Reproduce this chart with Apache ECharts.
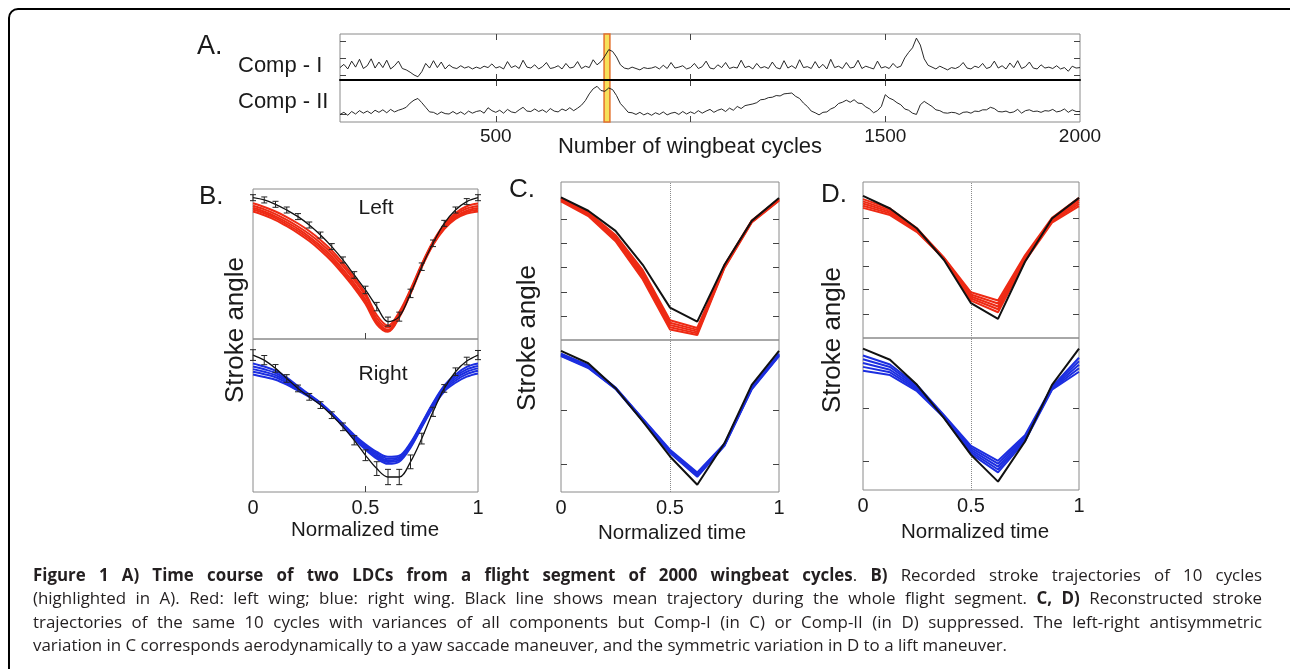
<!DOCTYPE html>
<html>
<head>
<meta charset="utf-8">
<script src="https://cdn.jsdelivr.net/npm/echarts@6/dist/echarts.min.js"></script>
<style>
html,body{margin:0;padding:0;background:#fff;}
#chart{position:absolute;left:0;top:0;width:1290px;height:669px;}
#caption{position:absolute;left:33px;top:563px;width:1229px;font-family:'Open Sans',sans-serif;font-size:16.9px;line-height:23.3px;color:#231f20;}
#caption div{white-space:nowrap;text-align:justify;text-align-last:justify;}
#caption div.last{text-align-last:left;}
#caption b{font-weight:700;}
</style>
</head>
<body>
<div id="chart"></div>
<div id="caption">
<div><b>Figure 1 A) Time course of two LDCs from a flight segment of 2000 wingbeat cycles</b>. <b>B)</b> Recorded stroke trajectories of 10 cycles</div>
<div>(highlighted in A). Red: left wing; blue: right wing. Black line shows mean trajectory during the whole flight segment. <b>C, D)</b> Reconstructed stroke</div>
<div>trajectories of the same 10 cycles with variances of all components but Comp-I (in C) or Comp-II (in D) suppressed. The left-right antisymmetric</div>
<div class="last">variation in C corresponds aerodynamically to a yaw saccade maneuver, and the symmetric variation in D to a lift maneuver.</div>
</div>
<script>
// ---------------- Panel A data ----------------
const cycleNumbers = [
100,110,120,130,140,150,160,170,180,190,
200,210,220,230,240,250,260,270,280,290,
300,310,320,330,340,350,360,370,380,390,
400,410,420,430,440,450,460,470,480,490,
500,510,520,530,540,550,560,570,580,590,
600,610,620,630,640,650,660,670,680,690,
700,710,720,730,740,750,760,770,780,790,
800,810,820,830,840,850,860,870,880,890,
900,910,920,930,940,950,960,970,980,990,
1000,1010,1020,1030,1040,1050,1060,1070,1080,1090,
1100,1110,1120,1130,1140,1150,1160,1170,1180,1190,
1200,1210,1220,1230,1240,1250,1260,1270,1280,1290,
1300,1310,1320,1330,1340,1350,1360,1370,1380,1390,
1400,1410,1420,1430,1440,1450,1460,1470,1480,1490,
1500,1510,1520,1530,1540,1550,1560,1570,1580,1590,
1600,1610,1620,1630,1640,1650,1660,1670,1680,1690,
1700,1710,1720,1730,1740,1750,1760,1770,1780,1790,
1800,1810,1820,1830,1840,1850,1860,1870,1880,1890,
1900,1910,1920,1930,1940,1950,1960,1970,1980,1990,
2000];
const compI = [
27,34,24,41,28,45,25,31,46,26,
39,27,43,24,31,41,25,22,17,11,
7,18,36,26,42,27,39,24,33,27,
25,31,26,29,24,28,25,30,27,35,
26,29,24,40,27,31,25,43,28,26,
33,24,29,38,25,27,31,24,36,26,
28,40,25,30,27,44,33,40,52,66,
62,50,33,26,24,28,25,22,27,25,
26,29,24,32,25,38,26,28,31,24,
27,36,25,29,41,26,24,33,27,38,
25,28,26,43,27,30,24,36,26,29,
25,39,27,24,42,26,31,25,44,27,
29,25,40,26,34,24,45,27,30,25,
38,26,28,43,25,30,27,24,41,26,
29,25,36,27,30,48,60,70,91,76,
46,32,28,24,30,26,22,27,25,29,
38,26,24,30,27,36,25,28,41,26,
31,24,37,27,42,25,29,39,26,24,
33,26,28,25,31,24,27,19,30,26,
27];
const compII = [
18,23,16,25,19,27,21,26,20,28,
23,29,22,30,24,28,31,35,45,52,
56,46,35,24,23,18,24,20,19,25,
19,24,18,26,21,25,27,21,34,27,
23,28,21,30,24,22,29,35,26,25,
31,25,29,23,32,26,24,31,27,34,
27,33,40,51,67,79,85,75,73,81,
77,63,44,34,23,22,18,23,17,21,
16,22,18,24,17,21,23,18,25,19,
24,20,27,21,26,30,23,28,31,25,
33,28,37,32,39,41,43,46,53,54,
58,59,63,62,67,68,69,61,56,45,
37,26,22,17,23,24,31,35,44,47,
52,47,53,45,44,36,31,22,27,37,
65,57,53,46,41,31,28,21,18,41,
49,43,37,29,27,22,21,23,22,18,
23,24,21,26,25,29,29,35,32,25,
24,26,22,24,30,21,27,29,25,26,
23,27,26,30,24,26,31,23,29,25,
25];
const highlightedCycles = [778, 793];
const cycleTickValues = [500, 1000, 1500];
const cycleTickLabels = [500, 1500, 2000];
const compITicks = [9.3, 47.2, 84.8];
const compIITicks = [18.3];

// ---------------- Panel B data (normalized time, stroke angle in % of panel range) ----------------
const timeB = [0,0.05,0.1,0.15,0.2,0.25,0.3,0.35,0.4,0.45,0.5,0.55,0.6,0.65,0.7,0.75,0.8,0.85,0.9,0.95,1];
const leftMeanB = [94.2,92.7,89.8,86,81.6,76,69.3,61.6,52.7,42.7,32.7,21.6,11.6,14.9,30.4,48.2,63.8,77.1,86,91.6,94.2];
const leftErrB  = [2,2,2,2,2,2,2,2,2,2.2,2.5,2.8,3,3,2.8,2.5,2.2,2,2,2,2];
const leftB1 = [90.5,88,85,81.3,77,72,66,59,50.5,41,30.5,16,9,18,33,50,65,76.5,84,88.5,90.3];
const leftB2 = [88.8,86.4,83.3,79.4,75,70,64,57,48.6,39.3,28.6,14,7.6,16.8,32.2,49.4,64.3,75.6,82.9,87,88.7];
const leftB3 = [87.5,85,81.8,77.8,73.4,68.2,62.1,55,46.4,37.1,26.4,12.1,6.2,15.6,31.4,48.7,63.7,74.7,81.7,85.6,87.3];
const leftB4 = [86.3,83.8,80.6,76.5,72,66.8,60.6,53.4,44.8,35.5,24.8,10.9,5.4,15,30.8,48.3,63.2,74,80.9,84.7,86.2];
const leftB5 = [85,82.5,79.3,75.2,70.6,65.3,59,51.8,43.2,33.9,23.3,9.8,4.8,14.4,30.1,47.8,62.6,73.2,80,83.6,85];
const rightMeanB = [89.5,86.2,80.8,74.2,67.7,62.2,56.8,50.2,42.6,33.8,24,15.3,9.8,9.8,19.7,34.9,52.4,67.7,78.6,85.6,89.5];
const rightErrB  = [3.5,3,2.5,2.5,2.2,2.2,2.2,2.2,2.5,3,3.5,4.5,5,5,4.5,3.5,3,2.5,2.5,2.5,3];
const rightB1 = [84,82,79.3,74.8,69.2,63.8,58.3,51.6,44.5,37.3,31.2,26.2,23,23.8,32.2,45,58.2,69.5,76.8,81.8,84];
const rightB2 = [82,80.2,77.8,73.6,68.4,63.4,58.1,51.5,44.1,36.7,30.4,25.1,21.8,22.8,31.4,44.4,57.6,68.7,75.6,80.2,82.4];
const rightB3 = [80.3,78.6,76.4,72.5,67.7,63,57.9,51.3,43.7,36,29.5,24,20.7,21.8,30.6,43.7,56.8,67.7,74.2,78.6,80.8];
const rightB4 = [78.6,77,75,71.4,67,62.5,57.6,51.1,43.3,35.3,28.6,22.9,19.6,20.8,29.8,43,56,66.7,72.8,77,79.2];
const rightB5 = [76.8,75.2,73.4,70.2,66.2,62.1,57.4,50.9,42.9,34.6,27.7,21.8,18.4,19.8,29,42.3,55.2,65.7,71.4,75.4,77.5];

// ---------------- Panels C / D data ----------------
const timeCD = [0,0.125,0.25,0.375,0.5,0.625,0.75,0.875,1];
const leftMeanC = [90.3,81.8,69.1,47.6,20.5,11.6,47.6,75.4,89.9];
const leftC1 = [89.8,81,66.5,44.2,12.5,7.6,47.4,75.6,89.4];
const leftC2 = [89.2,80.3,65.4,42.6,10.9,6.4,47,75.3,89.1];
const leftC3 = [88.8,79.7,64.5,41.2,9.5,5.3,46.5,75,88.8];
const leftC4 = [88.3,79.1,63.5,39.8,8.1,4.2,46.1,74.7,88.5];
const leftC5 = [87.8,78.4,62.5,38.3,6.6,3.1,45.6,74.4,88.2];
const rightMeanC = [92.8,84.7,68.3,46.4,23.4,4.8,32.2,70.5,92.8];
const rightC1 = [91,83.4,68.8,48.2,27.8,12.8,31.8,69,91];
const rightC2 = [90.6,83,68.6,47.9,27.2,12.1,31.4,68.7,90.6];
const rightC3 = [90.2,82.5,68.3,47.5,26.7,11.4,31.1,68.3,90.2];
const rightC4 = [89.8,82,68,47.1,26.2,10.7,30.8,67.9,89.8];
const rightC5 = [89.4,81.6,67.8,46.8,25.6,10,30.4,67.6,89.4];
const leftMeanD = [91.1,83,70.2,50,22.3,12.3,48.9,76.6,89.8];
const leftD1 = [89,83,70.3,51.5,29.3,24,53,77,89.8];
const leftD2 = [87.6,82,69.7,51.3,27.9,22.1,52,76.2,88.5];
const leftD3 = [86.2,80.9,69.1,51.1,26.6,20.2,51.1,75.5,87.2];
const leftD4 = [84.8,79.9,68.5,50.9,25.3,18.4,50.2,74.8,85.9];
const leftD5 = [83.4,78.8,67.9,50.7,24,16.5,49.3,74,84.6];
const rightMeanD = [93,85.7,69.2,47.3,23.1,5.5,31.9,69.2,93];
const rightD1 = [88.5,82.6,69,49.2,29,19.2,36,68,87];
const rightD2 = [86,80.9,68,48.8,27.7,17.3,35,67.5,84.7];
const rightD3 = [83.5,79.1,67,48.4,26.4,15.4,34.1,67,82.4];
const rightD4 = [81,77.4,66,48,25.1,13.5,33.2,66.5,80.1];
const rightD5 = [78.5,75.6,65,47.6,23.8,11.6,32.2,66,77.8];
const timeTickLabels = [0, 0.5, 1];
const timeTicksB = [0.5];
const topTicksC = [15, 30.5, 46, 61.3, 76.6];
const bottomTicksC = [18, 54];
const topTicksD = [15, 31, 45.7, 61.7, 76.6];
const bottomTicksD = [18.7, 53.8];

// ---------------- styling ----------------
const RED = '#ee2a14', BLUE = '#1c2ee0', BLACK = '#111111';
const FONT = "'Liberation Sans', Arial, Helvetica, sans-serif";
const TEXT = '#1a1a1a';

const grids = [], xAxes = [], yAxes = [], series = [];

function tick(vals) {
  if (!vals || !vals.length) return {show:false};
  return {show:true, inside:true, length:6, customValues: vals, lineStyle:{color:'#444', width:1}};
}
function addPanel(box, xr, yr, o) {
  const gi = grids.length;
  grids.push({left:box[0], top:box[1], width:box[2], height:box[3], show:true,
              borderColor:'#8a8a8a', borderWidth:1, backgroundColor:'transparent'});
  const xi = xAxes.length, yi = yAxes.length;
  xAxes.push({gridIndex:gi, type:'value', position:'bottom', min:xr[0], max:xr[1], z: 3,
    axisLine: o.sepLine ? {show:true, onZero:false, lineStyle:{color:'#000', width:2}} : {show:false, onZero:false},
    axisTick: tick(o.xTicks), splitLine:{show:false},
    axisLabel: o.xLabels ? {show:true, customValues:o.xLabels, fontSize:o.xFont, margin:o.xMargin,
      color:TEXT, fontFamily:FONT, formatter: v => String(v)} : {show:false}});
  xAxes.push({gridIndex:gi, type:'value', position:'top', min:xr[0], max:xr[1],
    axisLine:{show:false, onZero:false}, axisTick: tick(o.xTicksTop), axisLabel:{show:false}, splitLine:{show:false}});
  yAxes.push({gridIndex:gi, type:'value', position:'left', min:yr[0], max:yr[1],
    axisLine:{show:false, onZero:false}, axisTick: tick(o.yTicks), axisLabel:{show:false}, splitLine:{show:false}});
  yAxes.push({gridIndex:gi, type:'value', position:'right', min:yr[0], max:yr[1], z: 4,
    axisLine:{show:false, onZero:false}, axisTick: tick(o.yTicks), axisLabel:{show:false}, splitLine:{show:false}});
  return {x:xi, y:yi};
}
function zip(xs, ys) { return xs.map((x, i) => [x, ys[i]]); }
function addLine(ax, xs, ys, color, width, smooth, extra) {
  series.push(Object.assign({type:'line', xAxisIndex:ax.x, yAxisIndex:ax.y, data:zip(xs, ys),
    showSymbol:false, symbol:'none', smooth:smooth, silent:true, animation:false,
    lineStyle:{color:color, width:width}, z:3}, extra || {}));
}
function addErrorBars(ax, xs, mean, err) {
  series.push({type:'custom', xAxisIndex:ax.x, yAxisIndex:ax.y, silent:true, z:6,
    data: xs.map((x, i) => [x, mean[i] - err[i], mean[i] + err[i]]),
    renderItem: function (params, api) {
      const lo = api.coord([api.value(0), api.value(1)]);
      const hi = api.coord([api.value(0), api.value(2)]);
      const w = 3, st = {stroke:'#222', lineWidth:1};
      return {type:'group', children:[
        {type:'line', shape:{x1:lo[0], y1:lo[1], x2:hi[0], y2:hi[1]}, style:st},
        {type:'line', shape:{x1:lo[0]-w, y1:lo[1], x2:lo[0]+w, y2:lo[1]}, style:st},
        {type:'line', shape:{x1:hi[0]-w, y1:hi[1], x2:hi[0]+w, y2:hi[1]}, style:st}
      ]};
    }});
}
const dottedHalf = {silent:true, symbol:['none','none'], label:{show:false}, z:1,
  lineStyle:{type:'dotted', color:'#8a8a8a', width:1}, data:[{xAxis:0.5}]};

// ---------------- Panel A ----------------
const highlightArea = {silent:true, z:1, itemStyle:{color:'#f6e05a', borderColor:'#e4702c', borderWidth:1.5},
  data:[[{xAxis:highlightedCycles[0]}, {xAxis:highlightedCycles[1]}]]};
const a1 = addPanel([340, 34, 740, 46], [100, 2000], [0, 100],
  {xTicks:cycleTickValues, xTicksTop:cycleTickValues, yTicks:compITicks, sepLine:true});
const a2 = addPanel([340, 80, 740, 42], [100, 2000], [0, 100],
  {xTicks:cycleTickValues, xTicksTop:cycleTickValues, yTicks:compIITicks,
   xLabels:cycleTickLabels, xFont:19, xMargin:5});
addLine(a1, cycleNumbers, compI, BLACK, 0.9, false, {markArea:highlightArea});
addLine(a2, cycleNumbers, compII, BLACK, 0.9, false, {markArea:highlightArea});

// ---------------- Panel B ----------------
const b1 = addPanel([253, 189, 225, 150], [0, 1], [0, 100], {xTicks:timeTicksB});
const b2 = addPanel([253, 339, 225, 153], [0, 1], [0, 100],
  {xTicks:timeTicksB, xLabels:timeTickLabels, xFont:20, xMargin:6});
[leftB1, leftB2, leftB3, leftB4, leftB5].forEach(c => addLine(b1, timeB, c, RED, 2, 0.35));
addLine(b1, timeB, leftMeanB, BLACK, 1.3, 0.35, {z:5});
addErrorBars(b1, timeB, leftMeanB, leftErrB);
[rightB1, rightB2, rightB3, rightB4, rightB5].forEach(c => addLine(b2, timeB, c, BLUE, 2, 0.35));
addLine(b2, timeB, rightMeanB, BLACK, 1.3, 0.35, {z:5});
addErrorBars(b2, timeB, rightMeanB, rightErrB);

// ---------------- Panel C ----------------
const c1 = addPanel([561, 182, 218, 158], [0, 1], [0, 100], {yTicks:topTicksC});
const c2 = addPanel([561, 340, 218, 152], [0, 1], [0, 100],
  {yTicks:bottomTicksC, xLabels:timeTickLabels, xFont:20, xMargin:6});
[leftC1, leftC2, leftC3, leftC4, leftC5].forEach(c => addLine(c1, timeCD, c, RED, 2, false));
addLine(c1, timeCD, leftMeanC, BLACK, 2, false, {z:5, markLine:dottedHalf});
[rightC1, rightC2, rightC3, rightC4, rightC5].forEach(c => addLine(c2, timeCD, c, BLUE, 2, false));
addLine(c2, timeCD, rightMeanC, BLACK, 2, false, {z:5, markLine:dottedHalf});

// ---------------- Panel D ----------------
const d1 = addPanel([863, 182, 216, 156], [0, 1], [0, 100], {yTicks:topTicksD});
const d2 = addPanel([863, 338, 216, 152], [0, 1], [0, 100],
  {yTicks:bottomTicksD, xLabels:timeTickLabels, xFont:20, xMargin:6});
[leftD1, leftD2, leftD3, leftD4, leftD5].forEach(c => addLine(d1, timeCD, c, RED, 2, false));
addLine(d1, timeCD, leftMeanD, BLACK, 2, false, {z:5, markLine:dottedHalf});
[rightD1, rightD2, rightD3, rightD4, rightD5].forEach(c => addLine(d2, timeCD, c, BLUE, 2, false));
addLine(d2, timeCD, rightMeanD, BLACK, 2, false, {z:5, markLine:dottedHalf});

// ---------------- texts ----------------
function txt(text, x, y, size, align, extra) {
  return Object.assign({type:'text', x:x, y:y, silent:true, z:10,
    style:{text:text, fontSize:size, fontFamily:FONT, fill:TEXT, align:align || 'left', verticalAlign:'middle'}}, extra || {});
}
const graphics = [
  {type:'rect', shape:{x:9, y:9, width:1300, height:700, r:9}, silent:true, z:0,
   style:{fill:'none', stroke:'#000', lineWidth:2}},
  txt('A.', 197, 47, 27),
  txt('Comp - I', 238, 66, 22),
  txt('Comp - II', 238, 102, 22),
  txt('Number of wingbeat cycles', 690, 147, 22, 'center'),
  txt('B.', 199, 197, 26),
  txt('Left', 376, 208, 21, 'center'),
  txt('Right', 383, 374, 21, 'center'),
  txt('Stroke angle', 236, 330, 26, 'center', {rotation:Math.PI/2}),
  txt('Normalized time', 365, 530, 20.5, 'center'),
  txt('C.', 509, 190, 26),
  txt('Stroke angle', 528, 338, 26, 'center', {rotation:Math.PI/2}),
  txt('Normalized time', 672, 533, 20.5, 'center'),
  txt('D.', 821, 195, 26),
  txt('Stroke angle', 833, 340, 26, 'center', {rotation:Math.PI/2}),
  txt('Normalized time', 975, 532, 20.5, 'center')
];

const chart = echarts.init(document.getElementById('chart'), null, {renderer:'canvas'});
chart.setOption({
  animation:false,
  backgroundColor:'#ffffff',
  grid:grids, xAxis:xAxes, yAxis:yAxes, series:series, graphic:graphics
});
</script>
</body>
</html>
